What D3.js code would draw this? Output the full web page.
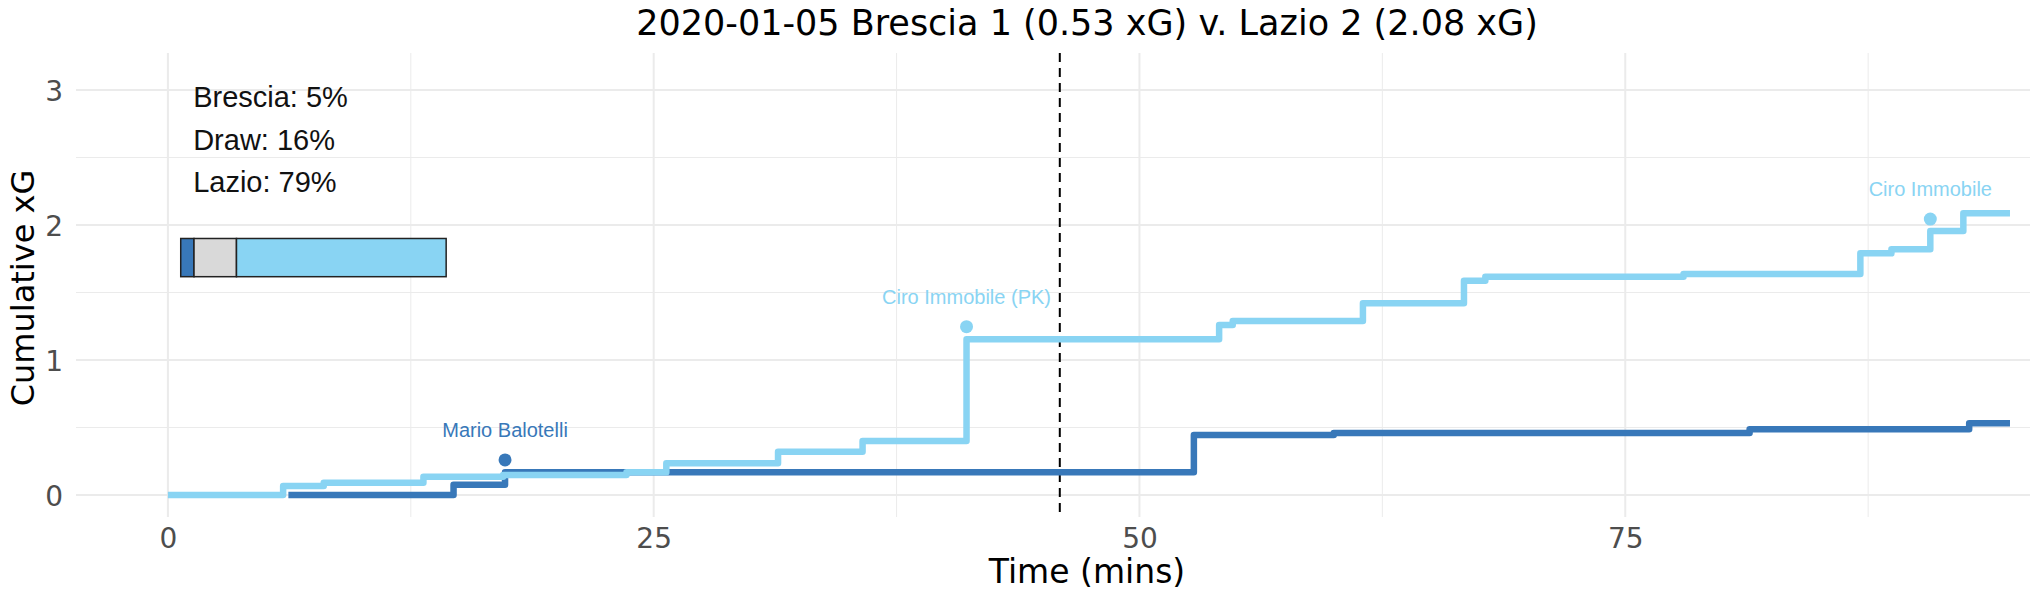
<!DOCTYPE html>
<html>
<head>
<meta charset="utf-8">
<script src="https://cdn.jsdelivr.net/npm/d3@7"></script>
<style>
  body { margin: 0; background: #fff; }
  svg { display: block; }
</style>
</head>
<body>
<div id="chart"></div>
<script>
// match info
var title = "2020-01-05 Brescia 1 (0.53 xG) v. Lazio 2 (2.08 xG)";

// cumulative xG steps
var bresciaMins = [6.2, 14.7, 17.35, 52.8, 60.0, 81.4, 92.7, 94.8];
var bresciaXg   = [0.0, 0.075, 0.168, 0.444, 0.459, 0.487, 0.531, 0.531];
var lazioMins = [0, 5.93, 8.02, 13.15, 17.25, 23.6, 25.65, 31.4, 35.75, 41.1, 54.1, 54.8, 61.5, 66.7, 67.8, 78.0, 87.1, 88.7, 90.7, 92.4, 94.8];
var lazioXg   = [0, 0.067, 0.091, 0.136, 0.148, 0.168, 0.235, 0.32, 0.40, 1.153, 1.259, 1.289, 1.42, 1.587, 1.617, 1.637, 1.79, 1.82, 1.955, 2.087, 2.087];

// goals
var goalTeam = ["Brescia", "Lazio", "Lazio"];
var goalMins = [17.35, 41.1, 90.7];
var goalXg   = [0.26, 1.247, 2.044];
var goalLabels = ["Mario Balotelli", "Ciro Immobile (PK)", "Ciro Immobile"];

// win probabilities
var probLabels = ["Brescia", "Draw", "Lazio"];
var probValues = [5, 16, 79];

var halfTime = 45.9;
var xTicks = [0, 25, 50, 75];
var xMinorTicks = [12.5, 37.5, 62.5, 87.5];
var yTicks = [0, 1, 2, 3];
var yMinorTicks = [0.5, 1.5, 2.5];

var colors = { "Brescia": "#3878b9", "Draw": "#d9d9d9", "Lazio": "#89d4f3" };

var svgWidth = 2030;
var svgHeight = 604;
var panel = { left: 76, right: 2098, top: 53, bottom: 517 };

var svg = d3.select("#chart")
    .append("svg")
    .attr("width", svgWidth)
    .attr("height", svgHeight);

var x = d3.scaleLinear()
    .domain([-4.73, 99.33])
    .range([panel.left, panel.right]);

var y = d3.scaleLinear()
    .domain([-0.163, 3.274])
    .range([panel.bottom, panel.top]);

// grid
var grid = svg.append("g");
grid.selectAll("line.xminor")
    .data(xMinorTicks).enter().append("line")
    .attr("x1", d => x(d)).attr("x2", d => x(d))
    .attr("y1", panel.top).attr("y2", panel.bottom)
    .attr("stroke", "#ebebeb").attr("stroke-width", 1);
grid.selectAll("line.yminor")
    .data(yMinorTicks).enter().append("line")
    .attr("x1", panel.left).attr("x2", panel.right)
    .attr("y1", d => y(d)).attr("y2", d => y(d))
    .attr("stroke", "#ebebeb").attr("stroke-width", 1);
grid.selectAll("line.xmajor")
    .data(xTicks).enter().append("line")
    .attr("x1", d => x(d)).attr("x2", d => x(d))
    .attr("y1", panel.top).attr("y2", panel.bottom)
    .attr("stroke", "#ebebeb").attr("stroke-width", 2);
grid.selectAll("line.ymajor")
    .data(yTicks).enter().append("line")
    .attr("x1", panel.left).attr("x2", panel.right)
    .attr("y1", d => y(d)).attr("y2", d => y(d))
    .attr("stroke", "#ebebeb").attr("stroke-width", 2);

// axes (text only, like theme_minimal)
var bottomAxis = d3.axisBottom(x).tickValues(xTicks).tickFormat(d3.format("d")).tickSize(0).tickPadding(0);
var leftAxis = d3.axisLeft(y).tickValues(yTicks).tickFormat(d3.format("d")).tickSize(0).tickPadding(0);

var xAxis = svg.append("g")
    .attr("transform", `translate(0, 548)`)
    .call(bottomAxis);
xAxis.select(".domain").remove();
xAxis.selectAll("text")
    .attr("y", 0).attr("dy", 0)
    .style("font-family", "DejaVu Sans")
    .style("font-size", "28px")
    .attr("fill", "#4d4d4d");

var yAxis = svg.append("g")
    .attr("transform", `translate(63, 0)`)
    .call(leftAxis);
yAxis.select(".domain").remove();
yAxis.selectAll("text")
    .attr("x", 0).attr("dy", "0.36em")
    .style("font-family", "DejaVu Sans")
    .style("font-size", "28px")
    .attr("fill", "#4d4d4d");

// half time
svg.append("line")
    .attr("x1", x(halfTime)).attr("x2", x(halfTime))
    .attr("y1", panel.top).attr("y2", panel.bottom)
    .attr("stroke", "#000")
    .attr("stroke-width", 2)
    .attr("stroke-dasharray", "9,6");

// step lines
var line = d3.line()
    .x(d => x(d[0]))
    .y(d => y(d[1]))
    .curve(d3.curveStepAfter);

var series = [
    { team: "Brescia", pts: d3.zip(bresciaMins, bresciaXg) },
    { team: "Lazio", pts: d3.zip(lazioMins, lazioXg) }
];

svg.selectAll("path.xg")
    .data(series).enter().append("path")
    .attr("d", d => line(d.pts))
    .attr("fill", "none")
    .attr("stroke", d => colors[d.team])
    .attr("stroke-width", 6.5)
    .attr("stroke-linejoin", "round");

// goals
var goals = goalMins.map(function(m, i) {
    return { min: m, xg: goalXg[i], team: goalTeam[i], label: goalLabels[i] };
});

var gdots = svg.selectAll("g.goal")
    .data(goals).enter().append("g");
gdots.append("circle")
    .attr("cx", d => x(d.min))
    .attr("cy", d => y(d.xg))
    .attr("r", 6.5)
    .attr("fill", d => colors[d.team]);
gdots.append("text")
    .text(d => d.label)
    .attr("x", d => x(d.min))
    .attr("y", d => y(d.xg) - 23)
    .attr("text-anchor", "middle")
    .style("font-family", "Liberation Sans, Arial, sans-serif")
    .style("font-size", "20px")
    .attr("fill", d => colors[d.team]);

// win probability text
var probText = svg.append("g");
probText.selectAll("text")
    .data(probLabels).enter().append("text")
    .attr("x", x(1.3))
    .attr("y", (d, i) => 107 + i * 42.5)
    .text((d, i) => `${d}: ${probValues[i]}%`)
    .style("font-family", "Liberation Sans, Arial, sans-serif")
    .style("font-size", "29px")
    .attr("fill", "#111");

// win probability bar
var barX = d3.scaleLinear()
    .domain([0, 100])
    .range([x(0.66), x(14.32)]);
var cum = [0];
probValues.forEach(function(v) { cum.push(cum[cum.length - 1] + v); });

svg.selectAll("rect.prob")
    .data(probLabels).enter().append("rect")
    .attr("x", (d, i) => barX(cum[i]))
    .attr("width", (d, i) => barX(cum[i + 1]) - barX(cum[i]))
    .attr("y", y(1.9))
    .attr("height", y(1.617) - y(1.9))
    .attr("fill", d => colors[d])
    .attr("stroke", "#222")
    .attr("stroke-width", 1.5);

// titles
svg.append("text")
    .attr("x", (panel.left + panel.right) / 2)
    .attr("y", 35)
    .attr("text-anchor", "middle")
    .style("font-family", "DejaVu Sans")
    .style("font-size", "35px")
    .text(title);

svg.append("text")
    .attr("x", (panel.left + panel.right) / 2)
    .attr("y", 583)
    .attr("text-anchor", "middle")
    .style("font-family", "DejaVu Sans")
    .style("font-size", "33px")
    .text("Time (mins)");

svg.append("text")
    .attr("transform", "rotate(-90)")
    .attr("x", -288)
    .attr("y", 34)
    .attr("text-anchor", "middle")
    .style("font-family", "DejaVu Sans")
    .style("font-size", "32px")
    .text("Cumulative xG");
</script>
</body>
</html>
